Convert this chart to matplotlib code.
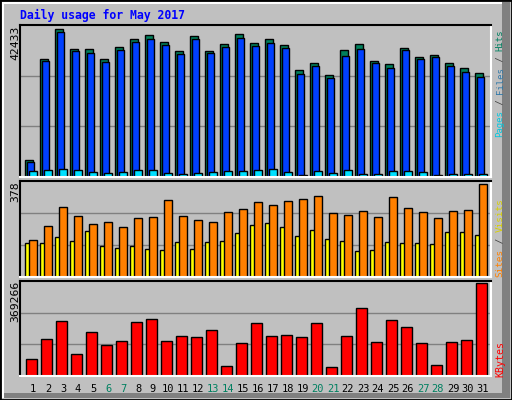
import matplotlib
matplotlib.use("Agg")
import matplotlib.pyplot as plt
from matplotlib.patches import Rectangle

days = list(range(1, 32))
weekend = [6, 7, 13, 14, 20, 21, 27, 28]
hits = [5011,33811,42433,36864,36691,33811,37267,39571,40723,38707,36115,40522,36115,38131,41011,38419,39571,37843,30643,32659,29203,36403,38131,33235,32371,36979,34387,34963,32659,31219,29779]
files = [4435,33235,41587,36115,35539,32947,36403,38707,39571,37843,35251,39571,35539,37267,39859,37555,38419,36979,29491,31795,28339,34675,36691,32659,31219,36403,33811,34387,31795,30067,28627]
pages = [1642,1930,2218,1930,1555,1267,1555,2131,2131,1267,979,1267,1555,1843,1843,2131,2419,1555,490,1843,1267,2131,979,979,1843,1843,1555,490,979,979,979]
sites = [137,137,161,145,186,128,120,128,116,112,141,116,141,145,178,210,218,202,165,190,153,145,104,112,141,137,137,133,182,182,173]
visits = [149,206,284,247,214,222,202,239,243,312,247,231,222,263,276,304,292,308,317,329,259,251,267,243,325,280,263,239,267,272,378]
kbytes = [66256,147056,219776,86456,175336,122816,138976,215736,227856,138976,159176,155136,183416,37976,130896,211696,159176,163216,155136,211696,33936,159176,272296,134936,223816,195536,130896,42016,134936,143016,369266]
title = "Daily usage for May 2017"

W, H = 512, 400
fig = plt.figure(figsize=(5.12, 4.0), dpi=100, facecolor="#c0c0c0")
mono = "DejaVu Sans Mono"

def fx(px): return px / W
def fy(py): return 1 - py / H

# frame
fig.patches.append(Rectangle((0, 0), 1, 1, transform=fig.transFigure, fill=False, ec="black", lw=2))
fig.patches.append(Rectangle((fx(502), fy(398)), fx(8), fy(2) - fy(398), transform=fig.transFigure, fc="#808080", ec="none"))
fig.patches.append(Rectangle((fx(2), fy(398)), fx(508), fy(393) - fy(398), transform=fig.transFigure, fc="#808080", ec="none"))
fig.patches.append(Rectangle((fx(2), fy(398)), fx(1.5), fy(2) - fy(398), transform=fig.transFigure, fc="white", ec="none"))
fig.patches.append(Rectangle((fx(2), fy(3.5)), fx(500), fy(2) - fy(3.5), transform=fig.transFigure, fc="white", ec="none"))

L, R = 20, 491
x0 = (L - 18) / 15
x1 = (R - 18) / 15

def mkax(top, bot, ymax):
    ax = fig.add_axes([fx(L), fy(bot), fx(R) - fx(L), fy(top) - fy(bot)])
    ax.set_facecolor("#c0c0c0")
    ax.set_xlim(x0, x1)
    ax.set_ylim(0, ymax)
    ax.set_xticks([]); ax.set_yticks([])
    for s in ("top", "left"):
        ax.spines[s].set_color("black"); ax.spines[s].set_linewidth(1.5)
    for s in ("bottom", "right"):
        ax.spines[s].set_color("white"); ax.spines[s].set_linewidth(1.5)
    for f in (1/3, 2/3):
        ax.axhline(ymax * f, color="#808080", lw=1, zorder=0)
    return ax

def bars(ax, vals, off, w, color):
    ax.bar([d + off / 15 for d in days], vals, width=w / 15, align="edge",
           color=color, edgecolor="black", linewidth=1, zorder=2)

ax1 = mkax(25, 177, 43690)
bars(ax1, hits, -8, 8, "#00805c")
bars(ax1, files, -6, 7, "#0040ff")
bars(ax1, pages, -4, 8, "#00e0ff")

ax2 = mkax(181, 277, 391)
bars(ax2, sites, -8, 5, "#ffff00")
bars(ax2, visits, -4, 7.7, "#ff8000")

ax3 = mkax(281, 376, 378500)
bars(ax3, kbytes, -7, 10.7, "#ff0000")

fig.text(fx(20), fy(15), title, color="#0000ff", family=mono, weight="bold", fontsize=8.3, va="center", ha="left")

for d in days:
    fig.text(fx(18 + 15 * d), fy(389), str(d), family=mono, fontsize=7.5,
             color="#008060" if d in weekend else "black", ha="center", va="center")

for txt, top in (("42433", 26), ("378", 181), ("369266", 281)):
    fig.text(fx(15), fy(top), txt, rotation=90, family=mono, fontsize=8.2, ha="center", va="top")

def vlabel(parts, bottom, step, xpx=500):
    k = 0
    fs = step * 1.2
    for t, c in parts:
        fig.text(fx(xpx), fy(bottom - step * k), t, rotation=90, family=mono, fontsize=fs,
                 color=c, ha="center", va="bottom")
        k += len(t)

vlabel([("Pages", "#00c8e0"), (" / ", "#404040"), ("Files", "#3078a8"), (" / ", "#404040"), ("Hits", "#008060")], 137, 5.4)
vlabel([("Sites", "#ff8000"), (" / ", "#404040"), ("Visits", "#d8d000")], 277, 5.6)
vlabel([("KBytes", "#ff0000")], 377, 6.0)

fig.savefig("out.png", dpi=100, facecolor=fig.get_facecolor())
